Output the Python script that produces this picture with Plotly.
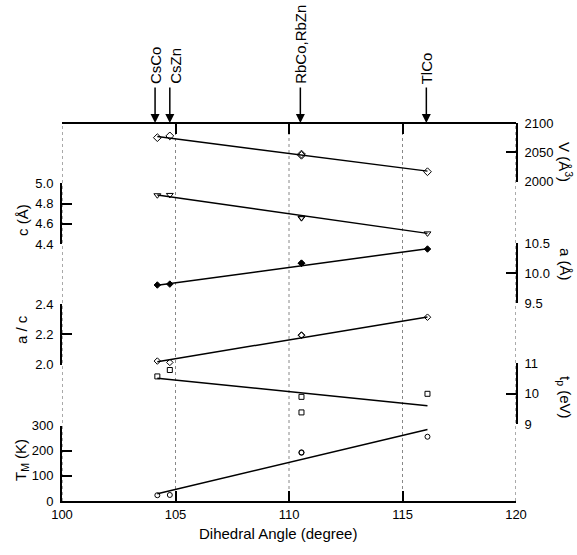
import plotly.graph_objects as go

# ---------------- data ----------------
compounds = ["CsCo", "CsZn", "RbCo", "RbZn", "TlCo"]
angles = [104.2, 104.75, 110.55, 110.55, 116.1]

V_vals = [2075, 2078, 2047, 2045, 2017]          # V (Å^3)
c_vals = [4.882, 4.885, 4.660, 4.655, 4.505]     # c (Å)
a_vals = [9.805, 9.820, 10.165, 10.170, 10.405]  # a (Å)
ac_vals = [2.024, 2.015, 2.196, 2.193, 2.313]    # a / c
tp_vals = [10.57, 10.78, 9.90, 9.39, 10.00]      # t_p (eV)
tm_vals = [23, 24, 194, 192, 256]                # T_M (K)

# fitted straight lines (end points)
fit_angles = [104.2, 116.1]
V_fit = [2077, 2018]
c_fit = [4.885, 4.505]
a_fit = [9.80, 10.41]
ac_fit = [2.02, 2.315]
tp_fit = [10.51, 9.61]
tm_fit = [29, 285]

# labels with arrows on top
arrow_labels = ["CsCo", "CsZn", "RbCo,RbZn", "TlCo"]
arrow_angles = [104.1, 104.75, 110.5, 116.05]
label_xshift = [0, 5, 0, 0]

x_ticks = [100, 105, 110, 115, 120]
top_ticks = [105, 110, 115]
grid_angles = [105, 110, 115]
frame_angles = [100, 120]

FONT = "Liberation Sans, Arial, Helvetica, sans-serif"

fig = go.Figure()

series = [
    ("y6", V_vals, V_fit, "diamond-open", 6),
    ("y3", c_vals, c_fit, "triangle-down-open", 6),
    ("y5", a_vals, a_fit, "diamond", 5),
    ("y2", ac_vals, ac_fit, "diamond-open", 5),
    ("y4", tp_vals, tp_fit, "square-open", 5),
    ("y", tm_vals, tm_fit, "circle-open", 5),
]
for yax, vals, fit, sym, size in series:
    fig.add_trace(go.Scatter(
        x=fit_angles, y=fit, yaxis=yax, xaxis="x", mode="lines",
        line=dict(color="black", width=1.5), showlegend=False, hoverinfo="skip"))
    fig.add_trace(go.Scatter(
        x=angles, y=vals, yaxis=yax, xaxis="x", mode="markers",
        marker=dict(symbol=sym, size=size, color="black",
                    line=dict(color="black", width=1)),
        cliponaxis=False, showlegend=False, text=compounds))

# invisible trace so the top frame axis is drawn
fig.add_trace(go.Scatter(x=[None], y=[None], xaxis="x2", yaxis="y6",
                         mode="markers", showlegend=False, hoverinfo="skip"))

H = 555 - 123 - 54  # plot height in px
def frac(px):
    return (501 - px) / H

ax_common = dict(
    anchor="x", showline=True, linecolor="black", linewidth=2,
    ticks="inside", ticklen=10, tickwidth=2, tickcolor="black",
    showgrid=False, zeroline=False, tickfont=dict(family=FONT, size=13, color="black"),
    ticklabelstandoff=4,
)

fig.update_layout(
    width=577, height=555,
    margin=dict(l=62, r=61, t=123, b=54),
    paper_bgcolor="white", plot_bgcolor="rgba(0,0,0,0)",
    font=dict(family=FONT, color="black"),
    xaxis=dict(range=[100, 120], tickvals=x_ticks, domain=[0, 1], anchor="y",
               showline=True, linecolor="black", linewidth=2,
               ticks="inside", ticklen=10, tickwidth=2, tickcolor="black",
               showgrid=False, zeroline=False,
               tickfont=dict(family=FONT, size=13, color="black")),
    xaxis2=dict(range=[100, 120], tickvals=top_ticks, overlaying="x", side="top",
                anchor="free", position=1, showline=True, linecolor="black",
                linewidth=2, ticks="inside", ticklen=10, tickwidth=2,
                tickcolor="black", showticklabels=False, showgrid=False,
                zeroline=False),
    yaxis=dict(domain=[0, frac(425.7)], range=[0, 300], tickvals=[0, 100, 200, 300],
               side="left", **ax_common),
    yaxis2=dict(domain=[frac(364.7), frac(304)], range=[2.0, 2.4],
                tickvals=[2.0, 2.2, 2.4], tickformat=".1f", side="left", **ax_common),
    yaxis3=dict(domain=[frac(244), frac(183.3)], range=[4.4, 5.0],
                tickvals=[4.4, 4.6, 4.8, 5.0], tickformat=".1f", side="left", **ax_common),
    yaxis4=dict(domain=[frac(424.3), frac(363.3)], range=[9, 11],
                tickvals=[9, 10, 11], side="right", **ax_common),
    yaxis5=dict(domain=[frac(303.3), frac(243.3)], range=[9.5, 10.5],
                tickvals=[9.5, 10.0, 10.5], tickformat=".1f", side="right", **ax_common),
    yaxis6=dict(domain=[frac(181.7), 1.0], range=[2000, 2100],
                tickvals=[2000, 2050, 2100], side="right", **ax_common),
)

shapes = []
for g in grid_angles:
    shapes.append(dict(type="line", xref="x", yref="paper", x0=g, x1=g, y0=0, y1=1,
                       line=dict(color="#888888", width=1, dash="dot"), layer="below"))
for g in frame_angles:
    shapes.append(dict(type="line", xref="x", yref="paper", x0=g, x1=g, y0=0, y1=1,
                       line=dict(color="#555555", width=1, dash="dot"), layer="below"))
fig.update_layout(shapes=shapes)

ann = []
for lab, xa, xs in zip(arrow_labels, arrow_angles, label_xshift):
    ann.append(dict(x=xa, y=1, xref="x", yref="paper", text="", showarrow=True,
                    ax=0, ay=-37, axref="pixel", ayref="pixel",
                    arrowhead=2, arrowsize=1.2, arrowwidth=1.5, arrowcolor="black"))
    ann.append(dict(x=xa, y=1, xref="x", yref="paper", text=lab, showarrow=False,
                    textangle=-90, xanchor="center", yanchor="bottom",
                    yshift=37, xshift=xs,
                    font=dict(family=FONT, size=15, color="black")))

def xp(px):
    return (px - 62) / 454

title_font = dict(family=FONT, size=15, color="black")
ann += [
    dict(x=xp(277.5), y=-(533 - 501) / H, xref="paper", yref="paper",
         text="Dihedral Angle (degree)", showarrow=False, xanchor="center",
         yanchor="middle", font=title_font),
    dict(x=xp(22), y=frac(220), xref="paper", yref="paper", text="c (Å)",
         showarrow=False, textangle=-90, xanchor="center", yanchor="middle", font=title_font),
    dict(x=xp(21), y=frac(330), xref="paper", yref="paper", text="a / c",
         showarrow=False, textangle=-90, xanchor="center", yanchor="middle", font=title_font),
    dict(x=xp(21), y=frac(460), xref="paper", yref="paper",
         text="T<sub>M</sub> (K)",
         showarrow=False, textangle=-90, xanchor="center", yanchor="middle", font=title_font),
    dict(x=xp(566), y=frac(162), xref="paper", yref="paper", text="V (Å<sup>3</sup>)",
         showarrow=False, textangle=90, xanchor="center", yanchor="middle", font=title_font),
    dict(x=xp(566), y=frac(264), xref="paper", yref="paper", text="a (Å)",
         showarrow=False, textangle=90, xanchor="center", yanchor="middle", font=title_font),
    dict(x=xp(565), y=frac(397), xref="paper", yref="paper", text="t<sub>p</sub> (eV)",
         showarrow=False, textangle=90, xanchor="center", yanchor="middle", font=title_font),
]
fig.update_layout(annotations=ann)

fig.write_html("out.html")
